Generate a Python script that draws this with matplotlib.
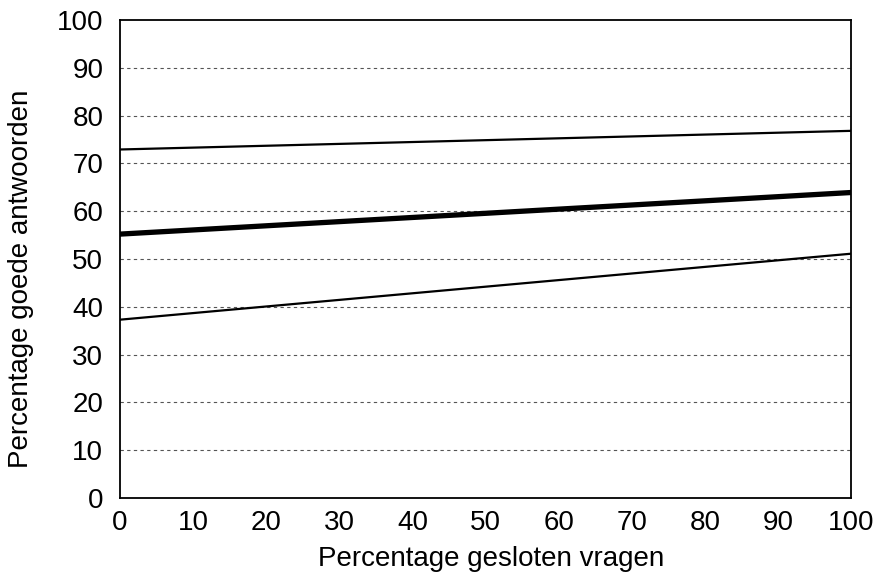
import numpy as np
import matplotlib
matplotlib.use("Agg")
import matplotlib.pyplot as plt

plt.rcParams['font.family'] = ['Liberation Sans', 'DejaVu Sans']

# x-bereik en eindpunten van de drie lijnen
x_vals = [0, 100]
bovengrens = [72.9, 76.8]
gemiddelde = [55.2, 63.9]
ondergrens = [37.3, 51.1]

y_ticks = list(range(0, 101, 10))
x_ticks = list(range(0, 101, 10))

fig = plt.figure(figsize=(8.84, 5.76), dpi=100)
ax = fig.add_axes([0.1357, 0.1354, 0.827, 0.830])

for y in y_ticks[1:-1]:
    ax.axhline(y, color='#555555', lw=0.8, ls=(0, (3, 3)), zorder=1)

ax.plot(x_vals, bovengrens, color='black', lw=1.6, zorder=3)
ax.plot(x_vals, gemiddelde, color='black', lw=3.8, zorder=3)
ax.plot(x_vals, ondergrens, color='black', lw=1.6, zorder=3)

ax.set_xlim(0, 100)
ax.set_ylim(0, 100)
ax.set_xticks(x_ticks)
ax.set_yticks(y_ticks)
ax.tick_params(length=0, labelsize=20)
ax.tick_params(axis='y', pad=12)
ax.tick_params(axis='x', pad=8.5)
for s in ax.spines.values():
    s.set_linewidth(1.3)

ax.set_xlabel("Percentage gesloten vragen", fontsize=20)
ax.xaxis.set_label_coords(0.508, -0.101)
ax.set_ylabel("Percentage goede antwoorden", fontsize=20)
ax.yaxis.set_label_coords(-0.118, 0.459)

fig.savefig("out.png", dpi=100)
